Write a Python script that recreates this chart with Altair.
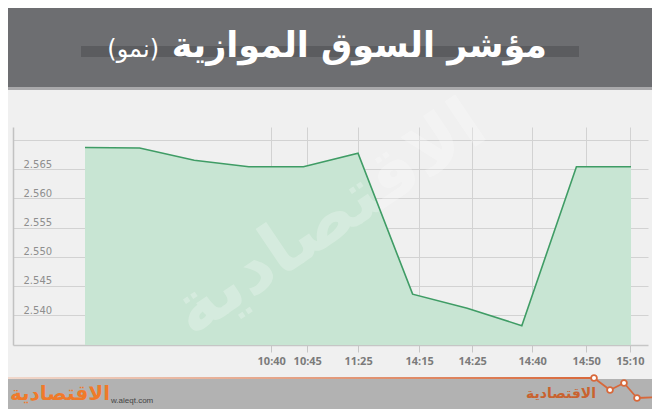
import json
import altair as alt
import pandas as pd

# ---------------- data ----------------
point_index = list(range(11))
index_values = [2.5687, 2.5686, 2.5665, 2.5654, 2.5654, 2.5677,
                2.5436, 2.5412, 2.5382, 2.5654, 2.5654]
time_labels = ["10:40", "10:45", "11:25", "14:15", "14:25", "14:40", "14:50", "15:10"]
time_ticks = [3.41, 4.07, 5.0, 6.12, 7.09, 8.19, 9.18, 9.98]
y_ticks = [2.540, 2.545, 2.550, 2.555, 2.560, 2.565, 2.570]

title_main = "مؤشر السوق الموازية"
title_sub = "(نمو)"
brand = "الاقتصادية"
site = "w.aleqt.com"

df = pd.DataFrame({"i": point_index, "v": index_values})
one = pd.DataFrame({"k": [0]})

W, H = 635, 218
ORANGE = "#d8683a"

x_scale = alt.Scale(domain=[-1.319, 10.311], nice=False, zero=False)
y_scale = alt.Scale(domain=[2.5349, 2.5722], nice=False, zero=False)

x_axis = alt.Axis(
    values=time_ticks,
    labelExpr=f"{json.dumps(time_labels)}[indexof({json.dumps(time_ticks)}, datum.value)]",
    title=None, grid=True, gridColor="#d2d2d2", gridWidth=1,
    domainColor="#c6c6c6", domainWidth=1.5, tickColor="#c6c6c6", tickSize=7,
    labelFont="Open Sans", labelFontWeight="bold", labelFontSize=11,
    labelColor="#7b7b7b", labelPadding=3, labelOverlap=False, labelFlush=False,
)
y_axis = alt.Axis(
    values=y_ticks,
    labelExpr="datum.value > 2.5675 ? '' : format(datum.value, '.3f')",
    title=None, grid=True, gridColor="#d2d2d2", gridWidth=1, ticks=False,
    domainColor="#c2c2c2", domainWidth=1.5,
    labelAlign="left", labelPadding=-10, labelBaseline="alphabetic", labelOffset=-2,
    labelFont="DejaVu Sans", labelFontSize=10, labelColor="#8e8e8e",
    labelOverlap=False, labelFlush=False,
)

base = alt.Chart(df).encode(
    x=alt.X("i:Q", scale=x_scale, axis=x_axis),
    y=alt.Y("v:Q", scale=y_scale, axis=y_axis),
)
area = base.mark_area(color="#c8e5d3", clip=True)
line = base.mark_line(color="#3f9c65", strokeWidth=1.6, clip=True)


def deco_rect(x, x2, y, y2, color, **kw):
    return alt.Chart(one).mark_rect(color=color, **kw).encode(
        x=alt.value(x), x2=alt.value(x2), y=alt.value(y), y2=alt.value(y2))


def deco_text(txt, x, y, **kw):
    return alt.Chart(one).mark_text(text=txt, **kw).encode(
        x=alt.value(x), y=alt.value(y))


def deco_rule(x, y, x2, y2):
    return alt.Chart(one).mark_rule(color=ORANGE, strokeWidth=1.8).encode(
        x=alt.value(x), y=alt.value(y), x2=alt.value(x2), y2=alt.value(y2))


def deco_dot(x, y):
    return alt.Chart(one).mark_point(shape="circle", size=34, filled=True,
                                     fill="#ffffff", stroke=ORANGE, strokeWidth=1.8,
                                     opacity=1).encode(x=alt.value(x), y=alt.value(y))


# header
header = deco_rect(-5, 639, -119, -40, "#6d6e71")
header_edge = deco_rect(-5, 639, -40, -37, "#a9a9ab")
title_bar = deco_rect(68, 566, -81, -70, "#5b5c5f")
t_main = deco_text(title_main, 534, -70, align="right", baseline="alphabetic",
                   font="DejaVu Sans", fontWeight="bold", fontSize=35, color="#ffffff")
t_sub = deco_text(title_sub, 146, -70, align="right", baseline="alphabetic",
                  font="DejaVu Sans", fontSize=24, color="#ffffff")

# watermark
watermark = deco_text(brand, 316, 92, align="center", baseline="middle", angle=326,
                      font="DejaVu Sans", fontWeight="bold", fontSize=72,
                      color="#ffffff", opacity=0.25)

# footer
footer = deco_rect(-5, 639, 252, 290, "#b2b2b2")
orange_line = alt.Chart(one).mark_rect(
    color=alt.LinearGradient(gradient="linear", x1=0, x2=1, y1=0, y2=0,
                             stops=[alt.GradientStop(color="#f0d8cc", offset=0),
                                    alt.GradientStop(color=ORANGE, offset=1)])
).encode(x=alt.value(-5), x2=alt.value(581), y=alt.value(250), y2=alt.value(252))
zig = [deco_rule(581, 251, 597, 263), deco_rule(597, 263, 611, 256),
       deco_rule(611, 256, 624, 271), deco_rule(624, 271, 647, 270)]
dots = [deco_dot(581, 251), deco_dot(597, 263), deco_dot(611, 256), deco_dot(624, 271)]
logo_left = deco_text(brand, 47, 267, align="center", baseline="middle",
                      font="DejaVu Sans", fontWeight="bold", fontSize=20, color="#f07a2a")
site_text = deco_text(site, 98, 274, align="left", baseline="middle",
                      font="Liberation Sans", fontSize=8, color="#444444")
logo_right = deco_text(brand, 548, 267, align="center", baseline="middle",
                       font="DejaVu Sans", fontWeight="bold", fontSize=14, color="#c9622f")

chart = alt.layer(
    header, header_edge, title_bar, t_main, t_sub,
    area, watermark, line,
    footer, orange_line, *zig, *dots, logo_left, site_text, logo_right,
).properties(
    width=W, height=H,
    autosize=alt.AutoSizeParams(type="none"),
    padding={"left": 5, "top": 119, "right": 4, "bottom": 64},
    background="#f0f0f0",
).configure_view(stroke=None)

chart.save("out.html", embed_options={"renderer": "svg", "actions": False})
